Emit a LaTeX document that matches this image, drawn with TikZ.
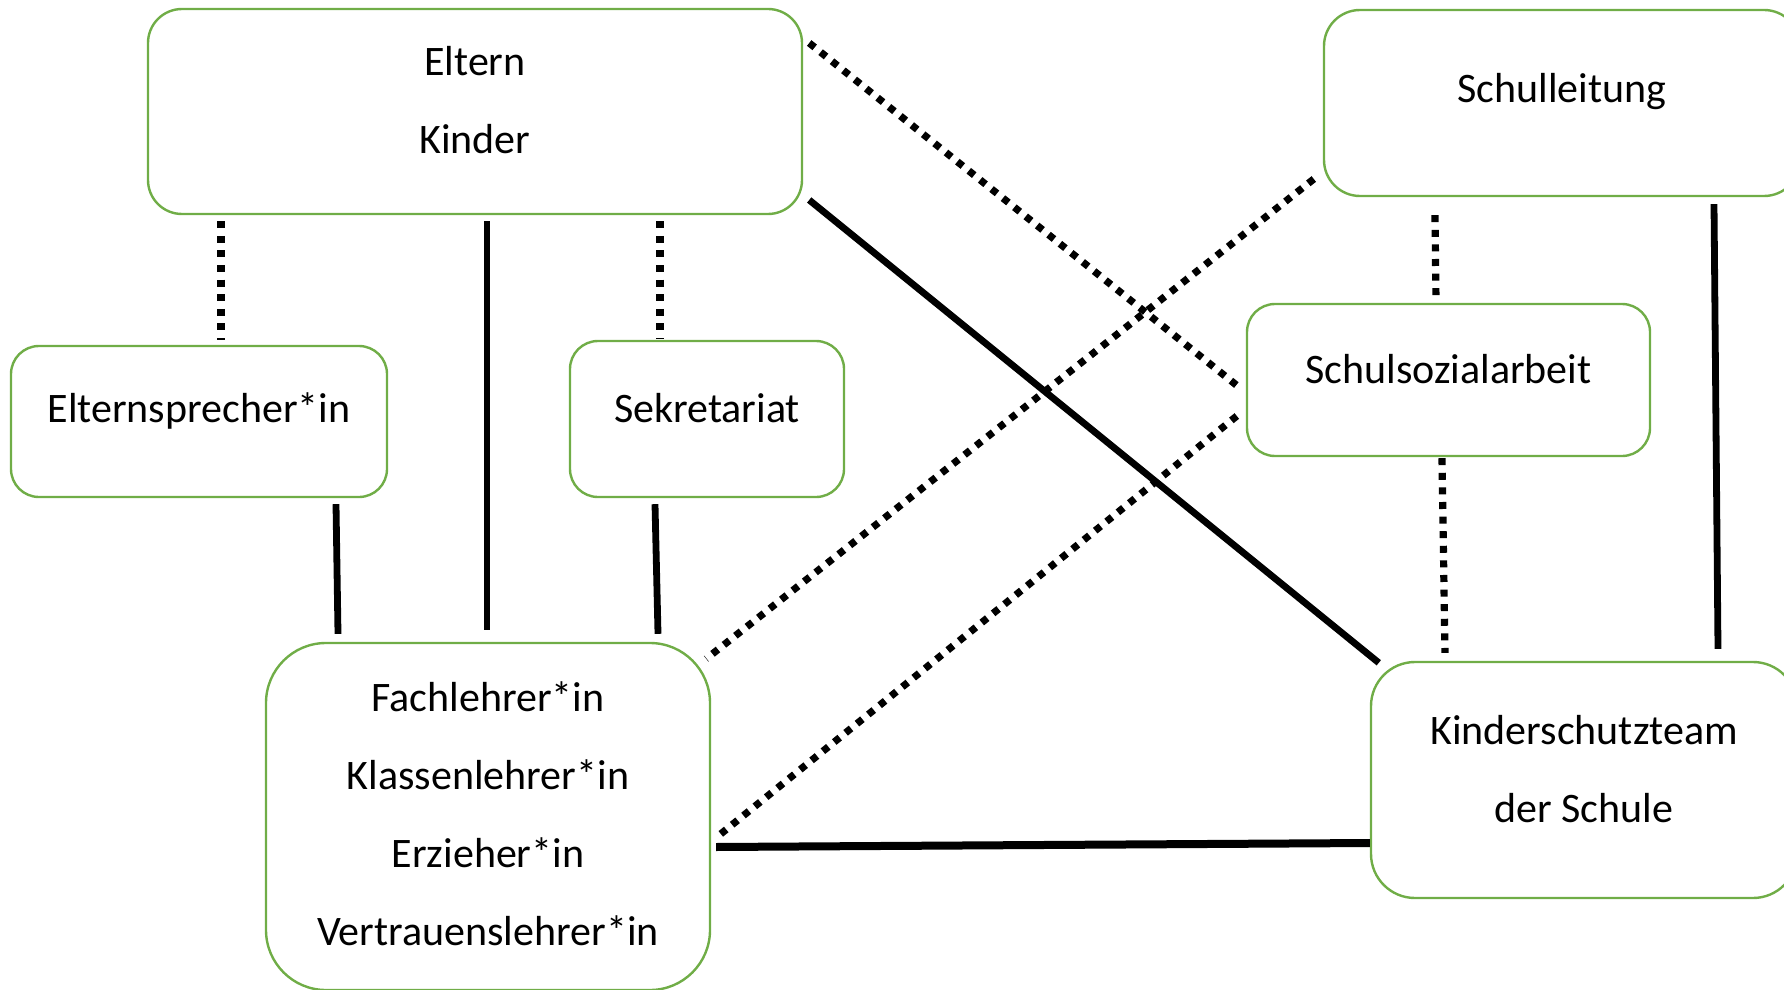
\documentclass[tikz,border=0pt]{standalone}
\usepackage{fontspec}
\setmainfont{Carlito}
\definecolor{boxgreen}{HTML}{70AD47}
\begin{document}
\begin{tikzpicture}[x=0.5pt, y=-0.5pt,
  box/.style={draw=boxgreen, line width=1.2pt, rounded corners=#1},
  txt/.style={align=center, font=\fontsize{21}{39}\selectfont, yshift=5.5pt},
  strong/.style={line width=3.4pt},
  dots/.style={line width=3.6pt, dash pattern=on 3.5pt off 3.8pt}]
\useasboundingbox (0,0) rectangle (1784,990);
% Kaesten
\node[box=17pt, minimum width=327pt, minimum height=102.5pt, label={[txt]center:{Eltern\\Kinder}}] (eltern) at (475,111.5) {};
\node[box=14pt, minimum width=188pt, minimum height=75.5pt, label={[txt]center:Elternsprecher*in}] (sprecher) at (199,421.5) {};
\node[box=14pt, minimum width=137pt, minimum height=78pt, label={[txt]center:Sekretariat}] (sekretariat) at (707,419) {};
\node[box=18pt, minimum width=238pt, minimum height=93pt, label={[txt]center:Schulleitung}] (leitung) at (1562,103) {};
\node[box=14pt, minimum width=201.5pt, minimum height=76pt, label={[txt]center:Schulsozialarbeit}] (sozial) at (1448.5,380) {};
\node[box=30pt, minimum width=222pt, minimum height=173.5pt, label={[txt, yshift=-4pt]center:{Fachlehrer*in\\Klassenlehrer*in\\Erzieher*in\\Vertrauenslehrer*in}}] (lehrer) at (488,816.5) {};
\node[box=22pt, minimum width=213pt, minimum height=118pt, label={[txt]center:{Kinderschutzteam\\der Schule}}] (kinder) at (1584,780) {};
% feste Verbindungen
\foreach \a/\ax/\ay/\b/\bx/\by in
{eltern.south/12/6/lehrer.north/-1/-12,
 sprecher.south/137/6/lehrer.north/-150/-8,
 sekretariat.south/-52/6/lehrer.north/170/-8,
 eltern.east/6/88.5/kinder.north west/9/2,
 leitung.south/152/7/kinder.north/134/-12}
\draw[strong] ([shift={(\ax,\ay)}]\a) -- ([shift={(\bx,\by)}]\b);
\draw[strong, line width=4pt] ([shift={(5,30.5)}]lehrer.east) -- ([shift={(0,63)}]kinder.west);
% gepunktete Verbindungen
\foreach \a/\ax/\ay/\b/\bx/\by in
{eltern.south/-254/6/sprecher.north/22/-5,
 eltern.south/185/6/sekretariat.north/-47/-1,
 eltern.east/6/-68.5/sozial.west/-7/7,
 leitung.west/-9/76/lehrer.north east/-5/17,
 sozial.west/-9/36/lehrer.east/7/19.5,
 leitung.south/-127/18/sozial.north/-12.5/-1,
 sozial.south/-6.5/1/kinder.north/-139/-8}
\draw[dots] ([shift={(\ax,\ay)}]\a) -- ([shift={(\bx,\by)}]\b);
\end{tikzpicture}
\end{document}
